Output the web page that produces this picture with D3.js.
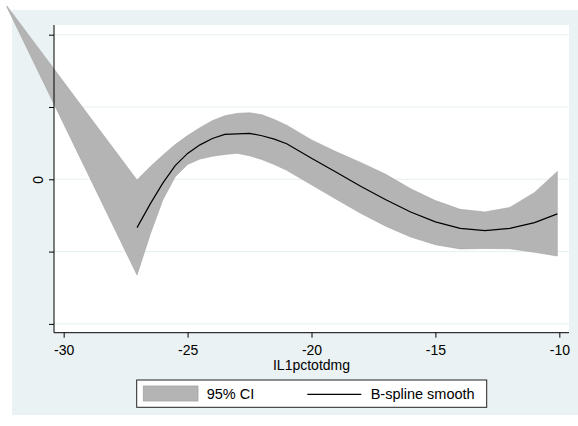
<!DOCTYPE html>
<html>
<head>
<meta charset="utf-8">
<script src="https://cdn.jsdelivr.net/npm/d3@7"></script>
<style>
  body { margin: 0; background: #fff; }
  svg text { font-family: "Liberation Sans", Arial, sans-serif; fill: #000; }
</style>
</head>
<body>
<div id="chart"></div>
<script>
// values
const xVals = [-32.29, -27.04, -26.5, -26, -25.5, -25, -24.5, -24, -23.5, -23, -22.5, -22, -21.5, -21,
               -20, -19, -18, -17, -16, -15, -14, -13, -12, -11, -10.08];
const upperCI = [0.2397, -0.0010, 0.0177, 0.0333, 0.0481, 0.0604, 0.0714, 0.0811, 0.0878, 0.0911, 0.0920, 0.0892, 0.0826, 0.0747,
                 0.0545, 0.0380, 0.0230, 0.0068, -0.0131, -0.0295, -0.0416, -0.0452, -0.0390, -0.0183, 0.0108];
const lowerCI = [0.2383, -0.1324, -0.0754, -0.0285, 0.0035, 0.0205, 0.0280, 0.0318, 0.0343, 0.0360, 0.0325, 0.0272, 0.0203, 0.0124,
                 -0.0077, -0.0277, -0.0473, -0.0650, -0.0798, -0.0905, -0.0963, -0.0957, -0.0961, -0.1010, -0.1061];
// smooth has no value at the first point
const smooth = [null, -0.0669, -0.0337, -0.0054, 0.0188, 0.0358, 0.0476, 0.0564, 0.0621, 0.0629, 0.0636, 0.0602, 0.0555, 0.0492,
                0.0292, 0.0098, -0.0101, -0.0282, -0.0452, -0.0589, -0.0678, -0.0711, -0.0680, -0.0599, -0.0479];
const xTicks = [-30, -25, -20, -15, -10];
const yTicks = [-0.2, -0.1, 0, 0.1, 0.2];
const legendLabels = ["95% CI", "B-spline smooth"];
const xTitle = "IL1pctotdmg";

const W = 578, H = 426;
const plot = {left: 54, right: 569, top: 25, bottom: 332.7};

const svg = d3.select("#chart").append("svg")
    .attr("width", W).attr("height", H);

// graph region
svg.append("rect").attr("x", 12).attr("y", 10).attr("width", W - 12).attr("height", 405)
    .attr("fill", "#eaf2f3");
svg.append("rect").attr("x", plot.left).attr("y", plot.top)
    .attr("width", plot.right - plot.left).attr("height", plot.bottom - plot.top)
    .attr("fill", "#fff");

const x = d3.scaleLinear().domain([-30.39, -9.61]).range([plot.left, plot.right]);
const y = d3.scaleLinear().domain([-0.2122, 0.2134]).range([plot.bottom, plot.top]);

// gridlines
svg.append("g").selectAll("line").data(yTicks).join("line")
    .attr("x1", plot.left).attr("x2", plot.right)
    .attr("y1", d => y(d)).attr("y2", d => y(d))
    .attr("stroke", "#e6eff1").attr("stroke-width", 1);

const data = xVals.map((d, i) => ({x: d, lo: lowerCI[i], hi: upperCI[i], s: smooth[i]}));

// CI band (not clipped, same as the original)
const area = d3.area()
    .x(d => x(d.x)).y0(d => y(d.lo)).y1(d => y(d.hi));
svg.append("path").datum(data).attr("d", area)
    .attr("fill", "#b4b4b4").attr("stroke", "#a4a4a4").attr("stroke-width", 0.6);

const line = d3.line().defined(d => d.s !== null)
    .x(d => x(d.x)).y(d => y(d.s));
svg.append("path").datum(data).attr("d", line)
    .attr("fill", "none").attr("stroke", "#000").attr("stroke-width", 1.2);

// axes
const xAxis = svg.append("g").attr("transform", `translate(0,${plot.bottom})`)
    .call(d3.axisBottom(x).tickValues(xTicks).tickSize(5).tickSizeOuter(0).tickFormat(d => String(d)));
xAxis.select(".domain").remove();
xAxis.selectAll("line").attr("stroke", "#000");
xAxis.selectAll("text").attr("y", 22).attr("dy", null)
    .style("font-size", "14px").style("font-family", "Liberation Sans, Arial, sans-serif");
svg.append("line").attr("x1", plot.left).attr("x2", plot.right)
    .attr("y1", plot.bottom).attr("y2", plot.bottom).attr("stroke", "#000");

const yAxis = svg.append("g").attr("transform", `translate(${plot.left},0)`)
    .call(d3.axisLeft(y).tickValues(yTicks).tickSize(5).tickSizeOuter(0).tickFormat(d => d === 0 ? "0" : ""));
yAxis.select(".domain").remove();
yAxis.selectAll("line").attr("stroke", "#000");
yAxis.selectAll("text")
    .attr("x", null).attr("dy", null)
    .attr("transform", "translate(-11.3,0) rotate(-90)")
    .attr("text-anchor", "middle")
    .style("font-size", "14px").style("font-family", "Liberation Sans, Arial, sans-serif");
svg.append("line").attr("x1", plot.left).attr("x2", plot.left)
    .attr("y1", plot.top).attr("y2", plot.bottom).attr("stroke", "#000");

svg.append("text").attr("x", (plot.left + plot.right) / 2).attr("y", 370)
    .attr("text-anchor", "middle").style("font-size", "14px").text(xTitle);

// legend
const lg = svg.append("g");
lg.append("rect").attr("x", 136.7).attr("y", 380).attr("width", 350).attr("height", 27.3)
    .attr("fill", "#fff").attr("stroke", "#222").attr("stroke-width", 1);
lg.append("rect").attr("x", 143.3).attr("y", 386).attr("width", 54.7).attr("height", 15)
    .attr("fill", "#b4b4b4").attr("stroke", "#a4a4a4").attr("stroke-width", 0.8);
lg.append("text").attr("x", 206.7).attr("y", 398.8).style("font-size", "14.5px").text(legendLabels[0]);
lg.append("line").attr("x1", 307.3).attr("x2", 361.3).attr("y1", 394.3).attr("y2", 394.3)
    .attr("stroke", "#000").attr("stroke-width", 1.2);
lg.append("text").attr("x", 370.7).attr("y", 398.8).style("font-size", "14.5px").text(legendLabels[1]);
</script>
</body>
</html>
